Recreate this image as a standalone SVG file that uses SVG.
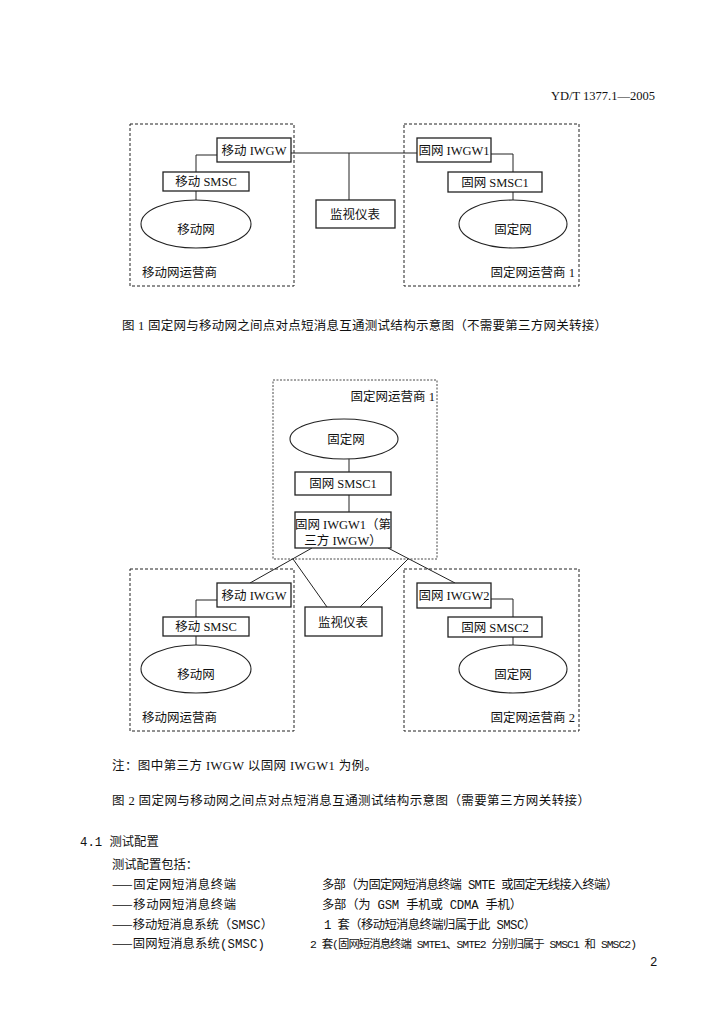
<svg xmlns="http://www.w3.org/2000/svg" width="724" height="1024" viewBox="0 0 724 1024">
<style>
text{font-family:"Liberation Serif","Noto Sans CJK SC",serif;font-size:12.5px;fill:#111}
.c{text-anchor:middle}
.e{text-anchor:end}
.box{fill:#fff;stroke:#222;stroke-width:1.3}
.ell{fill:#fff;stroke:#222;stroke-width:1.1}
.dash{fill:none;stroke:#222;stroke-width:1;stroke-dasharray:3 2}
.dot{fill:none;stroke:#333;stroke-width:0.9;stroke-dasharray:2 1.5}
.ln{stroke:#222;stroke-width:1;fill:none}
.sec{font-family:"Liberation Mono","Noto Sans CJK SC",monospace;font-size:12.3px}
.cj{font-family:"Noto Sans CJK SC",sans-serif}
</style>
<rect width="724" height="1024" fill="#fff"/>
<text id="header" x="655" y="100" class="e">YD/T 1377.1—2005</text>

<!-- Figure 1 -->
<g id="f1-operator-mobile"><rect class="dash" x="130" y="124" width="164" height="162"/><text x="142" y="277">移动网运营商</text></g>
<g id="f1-operator-fixed"><rect class="dash" x="404" y="124" width="175" height="162"/><text x="575" y="277" class="e">固定网运营商 1</text></g>
<g id="f1-connectors">
<polyline class="ln" points="217,155 196,155 196,172"/>
<line class="ln" x1="196" y1="191" x2="196" y2="200"/>
<line class="ln" x1="291" y1="153" x2="417" y2="153"/>
<line class="ln" x1="349" y1="153" x2="349" y2="200"/>
<polyline class="ln" points="491,154 513,154 513,172"/>
<line class="ln" x1="513" y1="192" x2="513" y2="200"/>
</g>
<g id="f1-mobile-iwgw"><rect class="box" x="217" y="138" width="74" height="24"/><text x="254" y="155" class="c">移动 IWGW</text></g>
<g id="f1-mobile-smsc"><rect class="box" x="163" y="172" width="86" height="19"/><text x="206" y="186" class="c">移动 SMSC</text></g>
<g id="f1-mobile-net"><ellipse class="ell" cx="196" cy="224" rx="55" ry="24"/><text x="196" y="234" class="c">移动网</text></g>
<g id="f1-monitor"><rect class="box" x="316" y="200" width="79" height="28"/><text x="355" y="219" class="c">监视仪表</text></g>
<g id="f1-fixed-iwgw1"><rect class="box" x="417" y="138" width="74" height="24"/><text x="454" y="155" class="c">固网 IWGW1</text></g>
<g id="f1-fixed-smsc1"><rect class="box" x="448" y="172" width="94" height="20"/><text x="495" y="187" class="c">固网 SMSC1</text></g>
<g id="f1-fixed-net"><ellipse class="ell" cx="513" cy="224" rx="54" ry="24"/><text x="513" y="234" class="c">固定网</text></g>
<text id="caption1" x="122" y="330" textLength="485">图 1  固定网与移动网之间点对点短消息互通测试结构示意图（不需要第三方网关转接）</text>

<!-- Figure 2 -->
<g id="f2-operator-fixed1"><rect class="dot" x="273" y="380" width="164" height="179"/><text x="435" y="401" class="e">固定网运营商 1</text></g>
<g id="f2-operator-mobile"><rect class="dash" x="130" y="569" width="164" height="162"/><text x="142" y="722">移动网运营商</text></g>
<g id="f2-operator-fixed2"><rect class="dash" x="404" y="569" width="175" height="162"/><text x="575" y="722" class="e">固定网运营商 2</text></g>
<g id="f2-connectors">
<line class="ln" x1="349" y1="458" x2="349" y2="472"/>
<line class="ln" x1="349" y1="495" x2="349" y2="512"/>
<line class="ln" x1="312" y1="548" x2="250" y2="583"/>
<line class="ln" x1="293" y1="559" x2="327" y2="607"/>
<line class="ln" x1="388" y1="548" x2="455" y2="583"/>
<line class="ln" x1="408" y1="559" x2="360" y2="607"/>
<polyline class="ln" points="217,600 196,600 196,617"/>
<line class="ln" x1="196" y1="636" x2="196" y2="645"/>
<polyline class="ln" points="491,599 513,599 513,617"/>
<line class="ln" x1="513" y1="637" x2="513" y2="645"/>
</g>
<g id="f2-fixed-net1"><ellipse class="ell" cx="344" cy="439" rx="54" ry="20"/><text x="346" y="444" class="c">固定网</text></g>
<g id="f2-fixed-smsc1"><rect class="box" x="295" y="472" width="96" height="23"/><text x="343" y="488" class="c">固网 SMSC1</text></g>
<g id="f2-fixed-iwgw1"><rect class="box" x="295" y="512" width="96" height="36"/><text x="343" y="529" class="c">固网 IWGW1（第</text><text x="343" y="545" class="c">三方 IWGW）</text></g>
<g id="f2-monitor"><rect class="box" x="305" y="607" width="77" height="29"/><text x="343" y="627" class="c">监视仪表</text></g>
<g id="f2-mobile-iwgw"><rect class="box" x="217" y="583" width="74" height="24"/><text x="254" y="600" class="c">移动 IWGW</text></g>
<g id="f2-mobile-smsc"><rect class="box" x="163" y="617" width="86" height="19"/><text x="206" y="631" class="c">移动 SMSC</text></g>
<g id="f2-mobile-net"><ellipse class="ell" cx="196" cy="669" rx="55" ry="24"/><text x="196" y="679" class="c">移动网</text></g>
<g id="f2-fixed-iwgw2"><rect class="box" x="417" y="583" width="74" height="25"/><text x="454" y="600" class="c">固网 IWGW2</text></g>
<g id="f2-fixed-smsc2"><rect class="box" x="448" y="617" width="94" height="20"/><text x="495" y="632" class="c">固网 SMSC2</text></g>
<g id="f2-fixed-net2"><ellipse class="ell" cx="513" cy="669" rx="54" ry="24"/><text x="513" y="679" class="c">固定网</text></g>
<text id="note" x="112" y="770" textLength="265">注：图中第三方 IWGW 以固网 IWGW1 为例。</text>
<text id="caption2" x="112" y="805" textLength="478">图 2  固定网与移动网之间点对点短消息互通测试结构示意图（需要第三方网关转接）</text>

<!-- Section text -->
<g id="section">
<text class="sec" x="80" y="846">4.1 测试配置</text>
<text class="sec" x="112" y="869">测试配置包括：</text>
<text class="sec" x="112" y="889" textLength="124"><tspan class="cj">——</tspan>固定网短消息终端</text>
<text class="sec" x="322" y="889" textLength="296">多部（为固定网短消息终端 SMTE 或固定无线接入终端）</text>
<text class="sec" x="112" y="909" textLength="124"><tspan class="cj">——</tspan>移动网短消息终端</text>
<text class="sec" x="322" y="909" textLength="200">多部（为 GSM 手机或 CDMA 手机）</text>
<text class="sec" x="112" y="929" textLength="161"><tspan class="cj">——</tspan>移动短消息系统（SMSC）</text>
<text class="sec" x="324" y="929" textLength="212">1 套（移动短消息终端归属于此 SMSC）</text>
<text class="sec" x="112" y="948" textLength="153"><tspan class="cj">——</tspan>固网短消息系统(SMSC)</text>
<text class="sec" x="310" y="948" style="font-size:11.4px" textLength="327">2 套(固网短消息终端 SMTE1、SMTE2 分别归属于 SMSC1 和 SMSC2)</text>
<text class="sec" x="650" y="966">2</text>
</g>
</svg>
